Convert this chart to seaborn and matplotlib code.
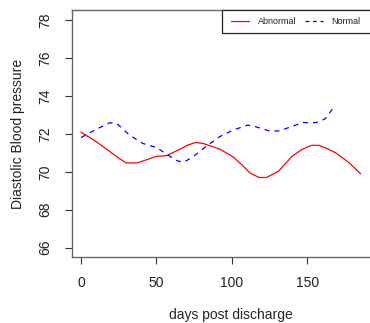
import matplotlib
matplotlib.use("Agg")
import matplotlib.pyplot as plt
import seaborn as sns
import pandas as pd
from matplotlib.lines import Line2D
from matplotlib.patches import Rectangle

abn_days = [0, 10, 19, 25, 30, 37, 44, 50, 56.6, 65, 71, 76, 81, 92, 100.7, 107, 112, 118, 123, 131, 140, 147, 153, 158, 164, 169, 178, 185.5]
abn_vals = [72.09, 71.6, 71.08, 70.72, 70.47, 70.47, 70.65, 70.82, 70.85, 71.17, 71.42, 71.55, 71.5, 71.2, 70.8, 70.35, 69.95, 69.7, 69.7, 70.03, 70.82, 71.2, 71.4, 71.4, 71.2, 71.0, 70.47, 69.9]
nor_days = [0, 10, 19, 23.6, 32, 41, 50, 59, 64, 68, 74, 83, 92, 100.7, 110.6, 116, 125, 131.5, 140, 147, 156, 162, 167]
nor_vals = [71.81, 72.24, 72.59, 72.56, 71.95, 71.5, 71.29, 70.82, 70.58, 70.5, 70.78, 71.34, 71.86, 72.2, 72.47, 72.38, 72.16, 72.16, 72.4, 72.6, 72.6, 72.8, 73.34]
groups = ["Abnormal", "Normal"]
x_ticks = [0, 50, 100, 150]
y_ticks = [66, 68, 70, 72, 74, 76, 78]

df = pd.concat([
    pd.DataFrame({"days": abn_days, "dbp": abn_vals, "group": groups[0]}),
    pd.DataFrame({"days": nor_days, "dbp": nor_vals, "group": groups[1]}),
])

sns.set_style("white")
plt.rcParams["font.family"] = ["Liberation Sans", "DejaVu Sans"]

fig = plt.figure(figsize=(3.70, 3.23), dpi=100)
ax = fig.add_axes([72/370, 66/323, (390-72)/370, (313-66)/323])

sns.lineplot(data=df, x="days", y="dbp", hue="group", style="group",
             palette={"Abnormal": "#FF0000", "Normal": "#0000FF"},
             dashes={"Abnormal": "", "Normal": (4, 4)},
             linewidth=0.9, ax=ax, legend=False, estimator=None, sort=True)

ax.set_xlim(-6, 205)
ax.set_ylim(65.5, 78.55)
ax.set_xticks(x_ticks)
ax.set_yticks(y_ticks)
ax.tick_params(axis="both", direction="out", length=5, width=0.8, color="#333333",
               labelsize=10, labelcolor="#222222", left=True, bottom=True)
for lab in ax.get_yticklabels():
    lab.set_rotation(90)
    lab.set_va("center")
ax.tick_params(axis="x", pad=8.5)
ax.tick_params(axis="y", pad=9)
for s in ax.spines.values():
    s.set_color("#666666")
    s.set_linewidth(1.0)

ax.set_xlabel("days post discharge", fontsize=10, color="#222222", labelpad=13.5)
ax.set_ylabel("Diastolic Blood pressure", fontsize=10, color="#222222", labelpad=9.5)

# legend box (extends past the right edge like the reference)
rect = Rectangle((222/370, (323-33)/323), 170/370, 23/323,
                 transform=fig.transFigure, fill=True, facecolor="white",
                 edgecolor="#222222", linewidth=0.9, zorder=5, clip_on=False)
ax.add_patch(rect)
handles = [Line2D([], [], color="#FF0000", lw=0.9),
           Line2D([], [], color="#0000FF", lw=0.9, dashes=(3, 3))]
leg = ax.legend(handles, groups, ncol=2, loc="center left",
                bbox_to_anchor=(231/370, (323-21.5)/323), bbox_transform=fig.transFigure,
                fontsize=6.5, frameon=False, handlelength=2.0, handletextpad=0.95,
                columnspacing=0.95, borderpad=0.0, borderaxespad=0)
leg.set_zorder(10)
for t in leg.get_texts():
    t.set_color("#222222")

fig.savefig("out.png", dpi=100)
